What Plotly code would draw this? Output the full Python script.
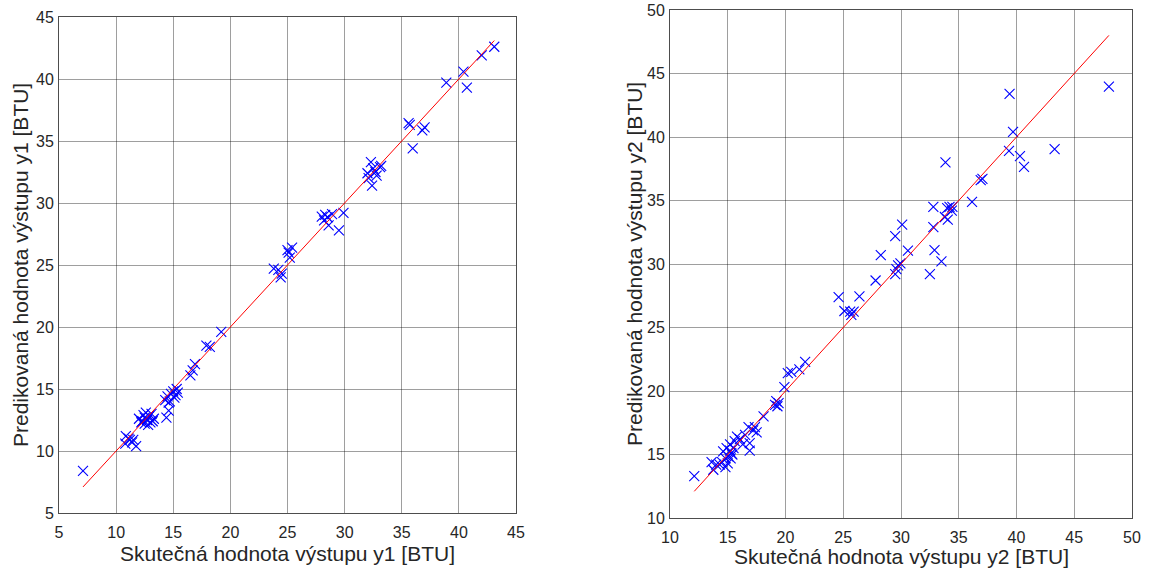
import plotly.graph_objects as go

W, H = 1156, 574

# ---- Data: left plot (y1) ----
y1_actual = [7.1, 10.85, 11.2, 10.8, 11.4, 11.75, 11.1, 11.5,
             12.0, 12.2, 12.4, 12.5, 12.6, 12.7, 12.9, 13.0, 13.1, 13.3, 12.3, 12.8, 13.2, 12.5,
             14.4, 14.6,
             14.3, 14.5, 14.7, 14.8, 15.0, 15.2, 15.4, 15.3, 14.6, 15.1,
             16.5, 16.7, 16.9, 17.9, 18.2, 19.2,
             23.8, 24.2, 24.4, 24.5, 25.0, 25.4, 25.2, 25.1,
             28.0, 28.3, 28.2, 28.6, 28.9, 29.5, 29.9, 28.5,
             32.0, 32.3, 32.4, 32.7, 32.8, 33.1, 32.5, 32.1, 33.2,
             35.6, 35.7, 35.96, 36.8, 37.0,
             38.9, 40.4, 40.7, 42.0, 43.1]
y1_pred = [8.4, 11.2, 10.9, 10.6, 10.7, 10.4, 11.0, 10.9,
           12.6, 12.3, 12.9, 12.2, 13.1, 12.5, 12.8, 12.3, 13.0, 12.6, 12.4, 12.1, 12.4, 12.7,
           12.7, 13.25,
           14.1, 14.4, 14.0, 14.6, 14.8, 14.5, 14.7, 15.0, 13.9, 14.3,
           16.1, 16.5, 17.0, 18.5, 18.4, 19.6,
           24.7, 24.6, 24.0, 24.3, 26.2, 26.4, 25.6, 26.0,
           28.9, 29.05, 28.6, 28.2, 29.1, 27.8, 29.2, 28.85,
           32.4, 33.3, 31.4, 32.5, 32.2, 32.9, 32.8, 32.0, 33.0,
           36.45, 36.3, 34.4, 35.85, 36.1,
           39.7, 40.6, 39.3, 41.9, 42.6]

# ---- Data: right plot (y2) ----
y2_actual = [12.1, 13.75, 13.6, 14.0, 14.5, 14.6, 14.8, 14.9, 15.05, 15.2, 15.3, 15.5, 15.6,
             15.8, 16.05, 16.3, 16.5, 16.8, 16.9, 16.9, 17.2, 17.35, 17.5, 14.3, 15.0, 15.25,
             14.8, 15.4, 15.2,
             18.1, 19.2, 19.3, 19.1, 19.4,
             19.9, 20.2, 20.5, 21.2, 21.7,
             24.6, 25.1, 25.6, 25.9, 26.4, 25.7,
             27.8, 28.25, 29.5, 29.5, 29.6, 29.75, 29.95, 30.1, 30.6,
             32.5, 32.8, 32.8, 32.9, 33.5, 33.85, 33.8, 34.0, 34.2, 34.05, 34.4, 34.45,
             36.15, 36.9, 37.05,
             39.4, 39.35, 39.7, 40.3, 40.65, 43.3, 48.0]
y2_pred = [13.3, 13.8, 14.4, 14.2, 14.4, 15.25, 14.0, 15.5, 14.85, 15.8, 15.1, 15.5, 16.05,
           16.4, 16.2, 15.8, 16.55, 17.15, 15.9, 15.3, 16.9, 17.15, 16.75, 14.2, 14.3, 14.7,
           14.7, 15.0, 15.3,
           18.0, 19.2, 18.8, 18.9, 19.05,
           20.3, 21.4, 21.5, 21.7, 22.3,
           27.4, 26.3, 26.25, 26.25, 27.45, 26.0,
           28.7, 30.7, 32.2, 29.2, 29.6, 29.9, 30.05, 33.1, 31.05,
           29.2, 34.5, 32.9, 31.1, 30.2, 38.0, 33.7, 34.4, 34.5, 33.5, 34.2, 34.5,
           34.9, 36.6, 36.7,
           43.4, 38.9, 40.4, 38.5, 37.65, 39.05, 43.97]

x1_title = "Skutečná hodnota výstupu y1 [BTU]"
y1_title = "Predikovaná hodnota výstupu y1 [BTU]"
x2_title = "Skutečná hodnota výstupu y2 [BTU]"
y2_title = "Predikovaná hodnota výstupu y2 [BTU]"

FONT = "Liberation Sans, Arial, sans-serif"
BLUE = "#0000ff"
RED = "#ff0000"

def px_x(p):
    return p / W

def px_y(p):
    return 1 - p / H

fig = go.Figure()

marker = dict(symbol="x-thin", size=10, color=BLUE, line=dict(color=BLUE, width=1.1))

fig.add_trace(go.Scatter(x=y1_actual, y=y1_pred, mode="markers", marker=marker,
                         xaxis="x", yaxis="y", showlegend=False))
lo1, hi1 = min(y1_actual), max(y1_actual)
fig.add_trace(go.Scatter(x=[lo1, hi1], y=[lo1, hi1], mode="lines",
                         line=dict(color=RED, width=1), xaxis="x", yaxis="y", showlegend=False))

fig.add_trace(go.Scatter(x=y2_actual, y=y2_pred, mode="markers", marker=marker,
                         xaxis="x2", yaxis="y2", showlegend=False))
lo2, hi2 = min(y2_actual), max(y2_actual)
fig.add_trace(go.Scatter(x=[lo2, hi2], y=[lo2, hi2], mode="lines",
                         line=dict(color=RED, width=1), xaxis="x2", yaxis="y2", showlegend=False))

axis_common = dict(
    showgrid=True, gridcolor="rgba(0,0,0,0.38)", gridwidth=1,
    showline=True, linecolor="#4d4d4d", linewidth=1, mirror=True,
    zeroline=False, ticks="", dtick=5, automargin=False,
    tickfont=dict(family=FONT, size=16, color="#262626"),
)

TFONT = dict(family=FONT, size=21, color="#262626")

fig.update_layout(
    width=W, height=H,
    margin=dict(l=0, r=0, t=0, b=0),
    paper_bgcolor="white", plot_bgcolor="white",
    xaxis=dict(domain=[px_x(59), px_x(516)], range=[5, 45], anchor="y",
               ticklabelstandoff=5, **axis_common),
    yaxis=dict(domain=[px_y(513), px_y(17)], range=[5, 45], anchor="x",
               ticklabelstandoff=1, **axis_common),
    xaxis2=dict(domain=[px_x(670), px_x(1132)], range=[10, 50], anchor="y2",
                ticklabelstandoff=5, **axis_common),
    yaxis2=dict(domain=[px_y(518), px_y(10)], range=[10, 50], anchor="x2",
                ticklabelstandoff=1, **axis_common),
    annotations=[
        dict(text=x1_title, x=px_x(287.5), y=px_y(553), xref="paper", yref="paper",
             xanchor="center", yanchor="middle", showarrow=False, font=TFONT),
        dict(text=y1_title, x=px_x(20), y=px_y(265), xref="paper", yref="paper",
             xanchor="center", yanchor="middle", showarrow=False, textangle=-90, font=TFONT),
        dict(text=x2_title, x=px_x(901), y=px_y(556), xref="paper", yref="paper",
             xanchor="center", yanchor="middle", showarrow=False, font=TFONT),
        dict(text=y2_title, x=px_x(634), y=px_y(264), xref="paper", yref="paper",
             xanchor="center", yanchor="middle", showarrow=False, textangle=-90, font=TFONT),
    ],
)

fig.write_html("out.html", config={"displayModeBar": False},
               post_script="document.body.style.margin='0';document.body.style.overflow='hidden';")
